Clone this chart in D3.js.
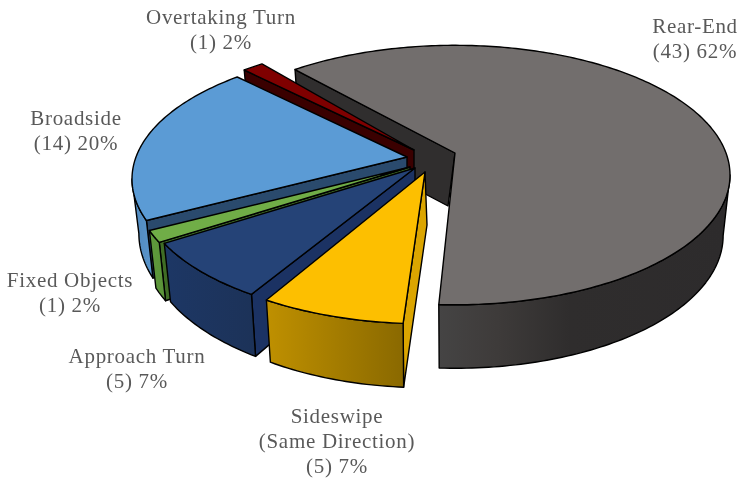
<!DOCTYPE html>
<html><head><meta charset="utf-8">
<script src="https://cdnjs.cloudflare.com/ajax/libs/d3/7.8.5/d3.min.js"></script>
<style>html,body{margin:0;padding:0;background:#fff}svg{display:block;filter:blur(0.35px)}</style></head>
<body><svg id="c" width="741" height="481"></svg>
<script>
const categories = ["Rear-End","Sideswipe","Approach Turn","Fixed Objects","Broadside","Overtaking Turn"];
const counts = [43,5,5,1,14,1];
const percents = [62,7,7,2,20,2];

const topColors  = ["#726e6d","#fdbf00","#254377","#70ad47","#5b9bd5","#7f0000"];
const sideColors = ["#302e2e","#dba500","#1b3263","#3f6d25","#2a4a6d","#3a0000"];

// view parameters of each exploded slice, in category order
const apexes = [[455,153],[425,172],[415,168],[410,167],[407,157],[414,150]];
const angleTweaks = [[-2.3,-2.1],[-1.1,-1.1],[0,0],[0,0],[0,0],[0,0]];
const leans = [-7,2,0,0,0,0];
const baseView = {rx:271, ry:126, p:.17, d:53, e:1, apexD:53, inset:.975};
const grayView = {rx:271, ry:126, p:.17, d:60, e:.3, apexD:53, inset:.975};
const viewOf = i => i === 0 ? grayView : baseView;
const firstAngle = 320.6;

const labelLines = [
  ["Rear-End", `(${counts[0]}) ${percents[0]}%`],
  ["Sideswipe","(Same Direction)", `(${counts[1]}) ${percents[1]}%`],
  ["Approach Turn", `(${counts[2]}) ${percents[2]}%`],
  ["Fixed Objects", `(${counts[3]}) ${percents[3]}%`],
  ["Broadside", `(${counts[4]}) ${percents[4]}%`],
  ["Overtaking Turn", `(${counts[5]}) ${percents[5]}%`]
];
const labelAt = [[695,27],[337,417],[137,357],[70,281],[76,119],[221,18]];

const svg = d3.select("#c");
const defs = svg.append("defs");
const deg = d3.scaleLinear().domain([0,360]).range([0,2*Math.PI]);

const pie = d3.pie().sort(null).value(d=>d)
  .startAngle(deg(firstAngle)).endAngle(deg(firstAngle+360));
const arcs = pie(counts);

function proj(v, apex, t){
  const s=Math.sin(t), c=Math.cos(t), w=1+v.p*c;
  return {x:apex[0]+v.rx*s/w, y:apex[1]-v.ry*c/w, dep:v.d*Math.pow(1/w,v.e)};
}
const under = (v,apex,q) => [apex[0]+(q.x-apex[0])*v.inset, q.y+q.dep];
const line = d3.line().x(d=>d[0]).y(d=>d[1]);
const samples = (a,b) => { const n=Math.max(2,Math.ceil(Math.abs(b-a)/deg(1))); return d3.range(n+1).map(k=>a+(b-a)*k/n); };

function gradient(id, stops){
  const g=defs.append("linearGradient").attr("id",id);
  stops.forEach(([o,c])=>g.append("stop").attr("offset",o).attr("stop-color",c));
  return `url(#${id})`;
}
const wallFill = {
  0: gradient("g0",[[0,"#454444"],[.2,"#3e3b3a"],[.45,"#2f2d2d"],[1,"#2d2b2c"]]),
  1: gradient("g1",[[0,"#bf9000"],[1,"#8a6900"]]),
  2: gradient("g2",[[0,"#1d3765"],[1,"#1c3258"]]),
  3: gradient("g3",[[0,"#5f9a3c"],[1,"#5a9338"]]),
  4: gradient("g4",[[0,"#4f88bd"],[1,"#5b96cc"]]),
  5: gradient("g5",[[0,"#3a0000"],[1,"#3a0000"]])
};

const order = [0,5,4,3,2,1];
order.forEach(i=>{
  const d=arcs[i], v=viewOf(i), A=apexes[i];
  const a0=d.startAngle+deg(angleTweaks[i][0]), a1=d.endAngle+deg(angleTweaks[i][1]);
  const g=svg.append("g");
  const put=(pts,fill)=>g.append("path").attr("d",line(pts)+"Z").attr("fill",fill)
    .attr("stroke","#000").attr("stroke-width",1.4).attr("stroke-linejoin","round");
  // radial wall under the starting edge
  const p0=proj(v,A,a0);
  put([[A[0],A[1]],[p0.x,p0.y],under(v,A,p0),[A[0]+leans[i],A[1]+v.apexD]],sideColors[i]);
  // outer wall, only on the part facing the viewer
  const ext=Math.acos(-v.p);
  const loop=a=>{let x=a%(2*Math.PI);return x<0?x+2*Math.PI:x;};
  const la=loop(a0), lb=la+(a1-a0);
  [[ext,2*Math.PI-ext],[ext+2*Math.PI,4*Math.PI-ext]].forEach(([lo,hi])=>{
    const u=Math.max(la,lo), w=Math.min(lb,hi);
    if(w<=u) return;
    const ts=samples(u,w);
    const tp=ts.map(t=>{const q=proj(v,A,t);return [q.x,q.y];});
    const bt=ts.slice().reverse().map(t=>under(v,A,proj(v,A,t)));
    put(tp.concat(bt),wallFill[i]);
  });
  // top face
  const top=[[A[0],A[1]]].concat(samples(a0,a1).map(t=>{const q=proj(v,A,t);return [q.x,q.y];}));
  put(top,topColors[i]);
});

const texts=svg.append("g").attr("font-family","'Liberation Serif',serif").attr("font-size",21)
  .attr("letter-spacing",.7).attr("fill","#595959").attr("text-anchor","middle");
categories.forEach((c,i)=>{
  const [x,y]=labelAt[i];
  const t=texts.append("text").attr("x",x).attr("y",y+6);
  labelLines[i].forEach((s,k)=>t.append("tspan").attr("x",x).attr("dy",k?25:0).text(s));
});
</script></body></html>
